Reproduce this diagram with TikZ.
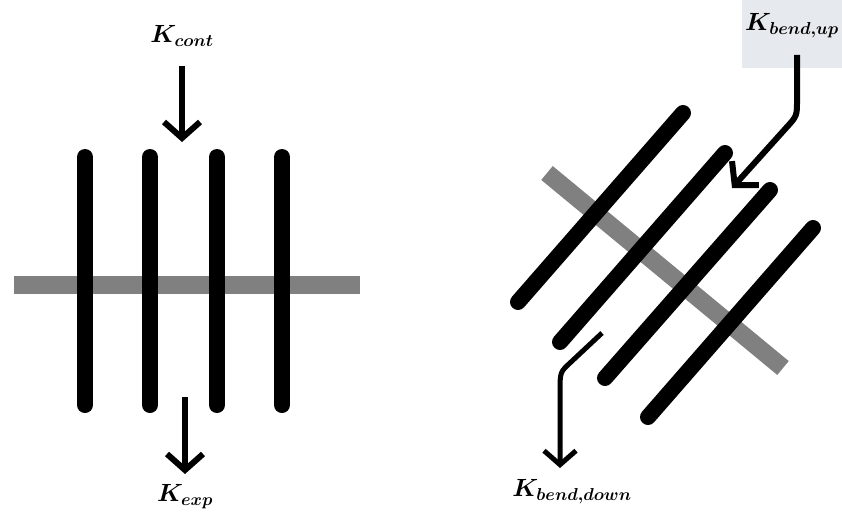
\documentclass[tikz,border=0pt]{standalone}
\usetikzlibrary{arrows.meta}
\usepackage{amsmath,bm}
\definecolor{matrixgray}{RGB}{128,128,128}
\definecolor{boxgray}{RGB}{230,233,237}
\begin{document}
\begin{tikzpicture}[x=1pt,y=-1pt,
  fiber/.style={line width=16pt, line cap=round, black},
  matrixbar/.style={line width=18pt, matrixgray},
  force/.style={line width=6pt, -{Straight Barb[length=16pt,width=36pt,line width=6pt]}},
  thinforce/.style={line width=5pt, -{Straight Barb[length=14pt,width=32pt,line width=5pt]}},
  lbl/.style={font=\fontsize{24}{28}\selectfont, inner sep=2pt}]
\useasboundingbox (0,0) rectangle (842,516);
% left panel
\draw[matrixbar] (14,285) -- (360,285);
\foreach \x in {85,150,217,282} \draw[fiber] (\x,157) -- (\x,405);
\node[lbl] (kcont) at (182,36) {$\bm{K_{cont}}$};
\coordinate (c1) at (182,66);
\coordinate (c2) at (182,142);
\draw[force] (c1) -- (c2);
\node[lbl] (kexp) at (185,497) {$\bm{K_{exp}}$};
\coordinate (e1) at (185,397);
\coordinate (e2) at (185,474);
\draw[force] (e1) -- (e2);
% right panel
\draw[matrixbar] (547,173) -- (783,368);
\draw[fiber] (518,302) -- (683,113);
\draw[fiber] (560,342) -- (725,153);
\draw[fiber] (605,378) -- (770,190);
\draw[fiber] (648,417) -- (813,228);
\fill[boxgray] (742,0) rectangle (842,68);
\node[lbl] (kup) at (792,26) {$\bm{K_{bend,up}}$};
\coordinate (u1) at (797,55);
\coordinate (u2) at (732,188);
\draw[force] (u1) -- (797,100) .. controls (797,116) .. (786,128) -- (u2);
\node[lbl] (kdown) at (572,492) {$\bm{K_{bend,down}}$};
\coordinate (d1) at (602,333);
\coordinate (d2) at (560,468);
\draw[thinforce] (d1) -- (571,362) .. controls (560,372) .. (560,392) -- (d2);
\end{tikzpicture}
\end{document}
